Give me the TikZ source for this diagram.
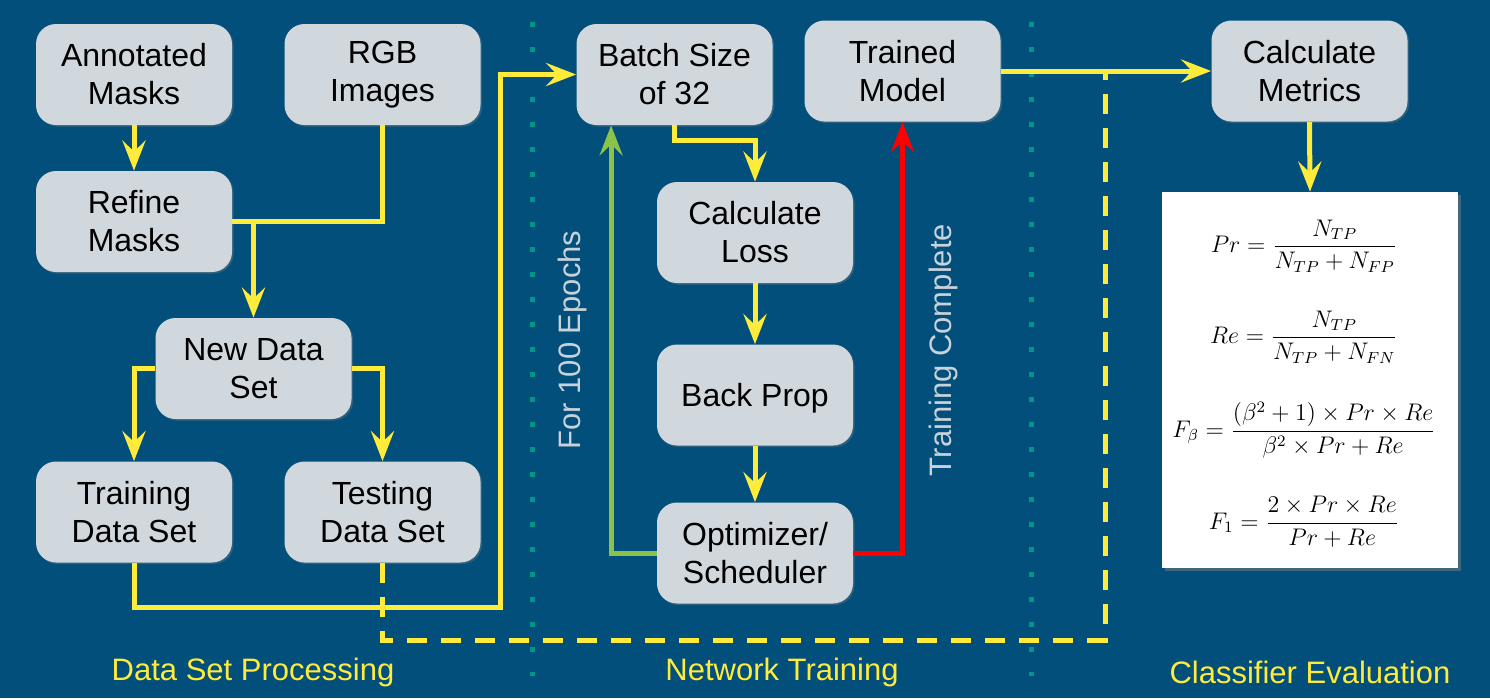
\documentclass[tikz,border=0pt]{standalone}
\usepackage[no-math]{fontspec}
\setmainfont{Liberation Sans}
\usetikzlibrary{arrows.meta,shadows,calc}
\definecolor{bg}{RGB}{1,79,122}
\definecolor{boxfill}{RGB}{208,216,222}
\definecolor{yel}{RGB}{255,235,59}
\definecolor{grn}{RGB}{139,195,74}
\definecolor{teal}{RGB}{0,150,136}
\definecolor{lgrey}{RGB}{200,210,218}
\tikzset{
  stepbox/.style={rectangle, rounded corners=10pt, fill=boxfill, minimum width=98pt, minimum height=50.5pt,
    align=center, font=\fontsize{16}{19}\selectfont, text=black, inner sep=0pt,
    execute at begin node={\rule{0pt}{14.5pt}},
    drop shadow={shadow xshift=0.8pt, shadow yshift=-0.8pt, opacity=0.35}},
  tip/.style={-{Stealth[length=15pt,width=11.5pt,inset=5.5pt]}},
  yl/.style={draw=yel, line width=2.5pt},
  ya/.style={yl, tip},
  yd/.style={draw=yel, line width=2.5pt, dash pattern=on 10pt off 7pt},
  ga/.style={draw=grn, line width=2.5pt, tip},
  ra/.style={draw=red, line width=2.5pt, tip},
  dotline/.style={draw=teal, line width=2.5pt, dash pattern=on 2.5pt off 10pt},
  sidelabel/.style={text=lgrey, font=\fontsize{15.5}{18}\selectfont, rotate=90},
  seclabel/.style={text=yel, font=\fontsize{15.5}{18}\selectfont},
  formula/.style={font=\fontsize{12}{14}\selectfont, text=black}
}
\begin{document}
\begin{tikzpicture}[x=0.5pt,y=-0.5pt]
\fill[bg] (0,0) rectangle (1490,698);
\useasboundingbox (0,0) rectangle (1490,698);

% dotted separators
\draw[dotline] (532,22) -- (532,676);
\draw[dotline] (1031,22) -- (1031,676);

% boxes
\node[stepbox] (ann) at (134,74.5) {Annotated\\Masks};
\node[stepbox] (rgb) at (382.5,74.5) {RGB\\Images};
\node[stepbox] (refine) at (134,221.5) {Refine\\Masks};
\node[stepbox] (newds) at (253.5,368.5) {New Data\\Set};
\node[stepbox] (train) at (134,512) {Training\\Data Set};
\node[stepbox] (test) at (382.5,512) {Testing\\Data Set};
\node[stepbox] (batch) at (674.5,74.5) {Batch Size\\of 32};
\node[stepbox] (trained) at (902.5,71) {Trained\\Model};
\node[stepbox] (loss) at (755,232.5) {Calculate\\Loss};
\node[stepbox] (back) at (755,395) {Back Prop};
\node[stepbox] (opt) at (755,553) {Optimizer/\\Scheduler};
\node[stepbox] (metrics) at (1309.5,71) {Calculate\\Metrics};

% formula box
\node[rectangle, fill=white, minimum width=148pt, minimum height=188pt, inner sep=0pt,
  drop shadow={shadow xshift=1.5pt, shadow yshift=-1.5pt, opacity=0.5}] (fbox) at (1310,380) {};
\node[formula] (f1) at (1304,246) {$\displaystyle Pr=\frac{N_{TP}}{N_{TP}+N_{FP}}$};
\node[formula] (f2) at (1304,337) {$\displaystyle Re=\frac{N_{TP}}{N_{TP}+N_{FN}}$};
\node[formula] (f3) at (1304,430) {$\displaystyle F_\beta=\frac{(\beta^2+1)\times Pr\times Re}{\beta^2\times Pr+Re}$};
\node[formula] (f4) at (1304,522) {$\displaystyle F_1=\frac{2\times Pr\times Re}{Pr+Re}$};

% side labels
\node[sidelabel] (epochs) at (572,340) {For 100 Epochs};
\node[sidelabel] (tcomp) at (943,350) {Training Complete};

% section labels
\node[seclabel] (s1) at (253,672) {Data Set Processing};
\node[seclabel] (s2) at (782,672) {Network Training};
\node[seclabel] (s3) at (1310,672) {Classifier Evaluation};

% connectors
\coordinate (c1) at (500,607);
\coordinate (c2) at (1105,640);
\coordinate (j1) at (newds.north |- refine.east);
\draw[yd] (test.south) |- (c2) -- (c2 |- trained.east);
\draw[ya] (ann) -- (refine);
\draw[yl] (rgb.south) |- (refine.east);
\draw[ya] (j1) -- (newds.north);
\draw[ya] (newds.west) -| (train.north);
\draw[ya] (newds.east) -| (test.north);
\draw[ya] (train.south) |- (c1) |- (batch.west);
\draw[ya] (trained.east) -- (metrics.west);
\draw[ya] (batch.south) -- ++(0,15) -| (loss.north);
\draw[ya] (loss) -- (back);
\draw[ya] (back) -- (opt);
\draw[ga] (opt.west) -| ([xshift=17.5pt]batch.south west);
\draw[ra] (opt.east) -| (trained.south);
\draw[ya] (metrics.south) -- (fbox.north);
\end{tikzpicture}
\end{document}
